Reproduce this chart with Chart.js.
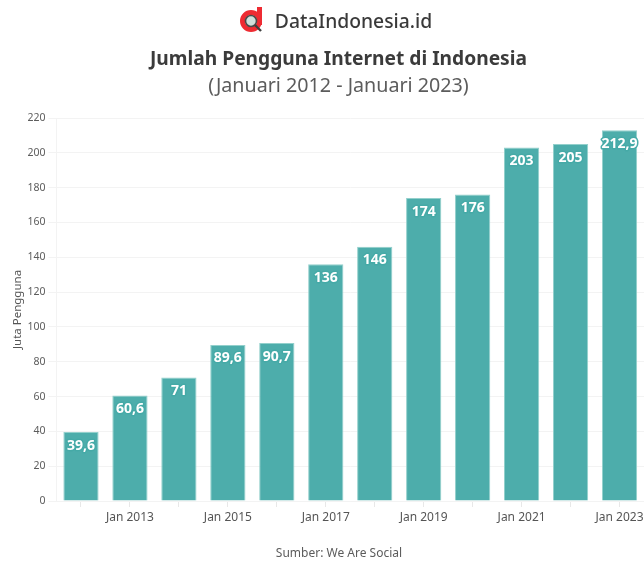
<!DOCTYPE html>
<html lang="id">
<head>
<meta charset="utf-8">
<title>Jumlah Pengguna Internet di Indonesia</title>
<script src="https://cdn.jsdelivr.net/npm/chart.js@4/dist/chart.umd.min.js"></script>
<style>
    html, body { margin: 0; padding: 0; background: #fff; }
    #page { position: relative; width: 644px; height: 563px; overflow: hidden; font-family: "Noto Sans", sans-serif; }
    #page canvas { position: absolute; left: 0; top: 0; }
    .line { position: absolute; white-space: nowrap; transform: translate(-50%, -50%); }
    #brand { left: 353.5px; top: 20px; font-size: 19.3px; font-weight: 500; color: #3a3a3a; }
    #heading { left: 338.5px; top: 57px; font-size: 19.2px; font-weight: 700; color: #3b3b3b; }
    #period { left: 338.5px; top: 84px; font-size: 19.7px; color: #5c5c5c; }
    #source { left: 339px; top: 552px; font-size: 12px; color: #5c5c5c; }
    #logo { position: absolute; left: 239px; top: 6px; }
</style>
</head>
<body>
<div id="page">
    <canvas id="barChart" width="644" height="563"></canvas>
    <svg id="logo" width="26" height="28" viewBox="0 0 26 28">
        <circle cx="12" cy="15" r="8.5" fill="none" stroke="#ee2b32" stroke-width="5"></circle>
        <rect x="18" y="1" width="5" height="18" fill="#ee2b32"></rect>
        <circle cx="12" cy="15" r="5.5" fill="#cfe0dc" stroke="#4a4a4a" stroke-width="1.6"></circle>
        <line x1="16" y1="19" x2="22" y2="25" stroke="#3f3f3f" stroke-width="2.4"></line>
    </svg>
    <div class="line" id="brand">DataIndonesia.id</div>
    <div class="line" id="heading">Jumlah Pengguna Internet di Indonesia</div>
    <div class="line" id="period">(Januari 2012 - Januari 2023)</div>
    <div class="line" id="source">Sumber: We Are Social</div>
</div>
<script>
const months = ["Jan 2012", "Jan 2013", "Jan 2014", "Jan 2015", "Jan 2016", "Jan 2017",
    "Jan 2018", "Jan 2019", "Jan 2020", "Jan 2021", "Jan 2022", "Jan 2023"];
const users = [39.6, 60.6, 71, 89.6, 90.7, 136, 146, 174, 176, 203, 205, 212.9];

const BAR_FILL = "rgba(70, 170, 168, 0.96)";
const BAR_EDGE = "#93d0cc";
const FONT = "'Noto Sans', sans-serif";

/**
 * Write each value inside the top of its bar, with a teal halo behind the text
 */
const barValueLabels = {
    id: "barValueLabels",
    afterDatasetsDraw(chart) {
        const { ctx } = chart;
        ctx.save();
        ctx.font = `700 14px ${FONT}`;
        ctx.textAlign = "center";
        ctx.textBaseline = "middle";
        ctx.lineJoin = "round";
        chart.getDatasetMeta(0).data.forEach((bar, i) => {
            const text = String(users[i]).replace(".", ",");
            ctx.lineWidth = 3;
            ctx.strokeStyle = BAR_FILL;
            ctx.strokeText(text, bar.x, bar.y + 13.5);
            ctx.fillStyle = "#fff";
            ctx.fillText(text, bar.x, bar.y + 13.5);
        });
        ctx.restore();
    },
};

new Chart(document.getElementById("barChart").getContext("2d"), {
    type: "bar",
    data: {
        labels: months,
        datasets: [{
            data: users,
            backgroundColor: BAR_FILL,
            borderColor: BAR_EDGE,
            borderWidth: 1,
            barPercentage: 0.72,
            categoryPercentage: 1,
        }],
    },
    options: {
        responsive: false,
        animation: false,
        layout: { padding: { top: 118, left: 0, right: 0, bottom: 0 } },
        plugins: { legend: { display: false }, tooltip: { enabled: false } },
        scales: {
            x: {
                afterFit: (scale) => { scale.height = 62; scale.paddingRight = 0; },
                border: { color: "#f3f3f3" },
                grid: { drawOnChartArea: false, offset: false, tickLength: 6, color: "#e8e8e8" },
                ticks: {
                    autoSkip: false,
                    maxRotation: 0,
                    padding: 3,
                    color: "#555",
                    font: { family: FONT, size: 12 },
                    // Only every other year gets a label
                    callback(value, index) {
                        return index % 2 === 1 ? months[index] : "";
                    },
                },
            },
            y: {
                min: 0,
                max: 220,
                afterFit: (scale) => { scale.width = 56.5; },
                border: { color: "#f3f3f3" },
                grid: { color: "#f3f3f3", tickLength: 8 },
                ticks: {
                    stepSize: 20,
                    padding: 3,
                    color: "#5c5c5c",
                    font: { family: FONT, size: 10.5 },
                },
                title: {
                    display: true,
                    text: "Juta Pengguna",
                    color: "#555",
                    font: { family: FONT, size: 11.5 },
                    padding: { top: 11, bottom: 0 },
                },
            },
        },
    },
    plugins: [barValueLabels],
});
</script>
</body>
</html>
